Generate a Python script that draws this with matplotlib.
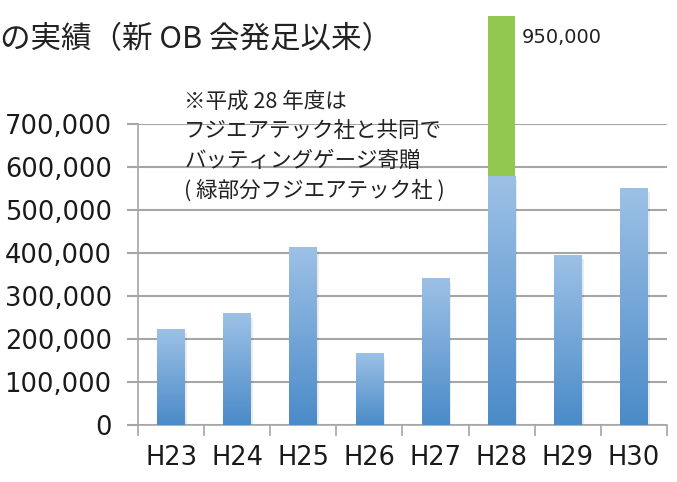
import matplotlib
matplotlib.use("AGG")

import matplotlib.pyplot as plt
import numpy as np
from matplotlib.colors import LinearSegmentedColormap
from matplotlib.ticker import FuncFormatter, FixedLocator

plt.rcParams["font.family"] = ["Noto Sans CJK JP", "DejaVu Sans"]

# ── Data ────────────────────────────────────────────────────────────────────
years = ["H23", "H24", "H25", "H26", "H27", "H28", "H29", "H30"]
club_amount = [222000, 258000, 412000, 165000, 340000, 578000, 395000, 549000]
partner_amount = [0, 0, 0, 0, 0, 372000, 0, 0]  # green part (H28 total 950,000)
h28_total_label = "950,000"
y_ticks = [0, 100000, 200000, 300000, 400000, 500000, 600000, 700000]

title = "の実績（新 OB 会発足以来）"
note = "※平成 28 年度は\nフジエアテック社と共同で\nバッティングゲージ寄贈\n( 緑部分フジエアテック社 )"

GRID = "#a6a6a6"
GREEN = "#92c84f"
TICK_FONT = "DejaVu Sans"
blue_cmap = LinearSegmentedColormap.from_list("bar", ["#4a8bc8", "#9dc1e6"])

fig = plt.figure(figsize=(6.77, 4.82), dpi=100)
ax = fig.add_axes([0.204, 0.118, 0.781, 0.625])

x = np.arange(len(years))
width = 0.42
bars = ax.bar(x, club_amount, width=width, color="none", edgecolor="none", zorder=3)
greens = ax.bar(x, partner_amount, width=width, bottom=club_amount, color=GREEN,
                edgecolor="none", zorder=3, clip_on=False)

# vertical gradient in each blue bar
grad = np.linspace(0, 1, 256).reshape(-1, 1)
for b in bars:
    x0, y0 = b.get_x(), b.get_y()
    w, h = b.get_width(), b.get_height()
    # soft shadow
    ax.bar(x0 + w / 2 + 0.03, h, width=w, bottom=-8000, color="#000000", alpha=0.08,
           edgecolor="none", zorder=2)
    ax.imshow(grad, cmap=blue_cmap, origin="lower", aspect="auto",
              extent=(x0, x0 + w, y0, y0 + h), zorder=3, clip_on=False)

ax.set_xlim(-0.5, len(years) - 0.5)
ax.set_ylim(0, 700000)

ax.yaxis.set_major_locator(FixedLocator(y_ticks))
ax.yaxis.set_major_formatter(FuncFormatter(lambda v, p: f"{int(v):,}"))
ax.set_xticks(x)
ax.set_xticklabels(years)
ax.set_xticks(np.arange(-0.5, len(years)), minor=True)

ax.grid(axis="y", color=GRID, linewidth=1.5, zorder=0)
ax.set_axisbelow(True)
for s in ["top", "right"]:
    ax.spines[s].set_visible(False)
for s in ["left", "bottom"]:
    ax.spines[s].set_color(GRID)
    ax.spines[s].set_linewidth(1.2)

ax.tick_params(axis="y", length=8, width=1.5, color=GRID, pad=11, labelsize=18.5,
               labelfontfamily=TICK_FONT, labelcolor="#1a1a1a")
ax.tick_params(axis="x", which="major", length=0, pad=14, labelsize=18.5,
               labelfontfamily=TICK_FONT, labelcolor="#1a1a1a")
ax.tick_params(axis="x", which="minor", length=8, width=1.2, color=GRID)

ax.text(x[5] + width / 2 + 0.1, 900000, h28_total_label, fontsize=14, color="#222222",
        fontfamily="Liberation Sans Narrow", ha="left", va="center", clip_on=False)

fig.text(0.0, 0.917, title, fontsize=22, color="#222222", ha="left", va="center")
fig.text(0.272, 0.812, note, fontsize=15.5, color="#222222", ha="left", va="top",
         linespacing=1.45)

fig.savefig("out.png", dpi=100, facecolor="white")
